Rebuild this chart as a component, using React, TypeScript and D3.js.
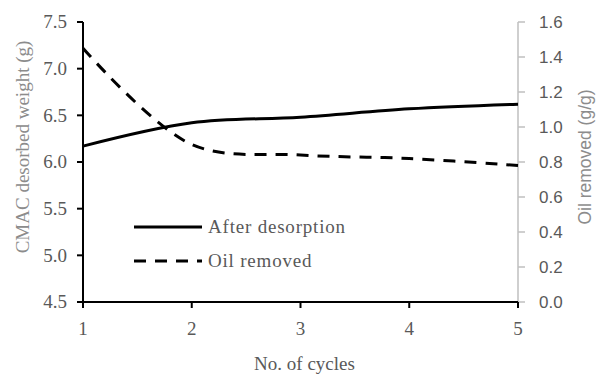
import React from "react";
import * as d3 from "d3";

const cycles = [1, 2, 3, 4, 5];
const afterDesorption = [6.17, 6.42, 6.48, 6.57, 6.62];
const oilRemoved = [1.45, 0.9, 0.84, 0.82, 0.78];
const leftTicks = [4.5, 5.0, 5.5, 6.0, 6.5, 7.0, 7.5];
const rightTicks = [0, 0.2, 0.4, 0.6, 0.8, 1.0, 1.2, 1.4, 1.6];

const W = 599;
const H = 374;
const M = { left: 83, right: 518, top: 22, bottom: 302 };

export default function App() {
  const x = d3.scaleLinear().domain([1, 5]).range([M.left, M.right]);
  const yL = d3.scaleLinear().domain([4.5, 7.5]).range([M.bottom, M.top]);
  const yR = d3.scaleLinear().domain([0, 1.6]).range([M.bottom, M.top]);

  const curve = d3.curveCatmullRom.alpha(0.5);
  const solid = d3
    .line<number>()
    .x((_, i) => x(cycles[i]))
    .y((d) => yL(d))
    .curve(curve)(afterDesorption);
  const dashed = d3
    .line<number>()
    .x((_, i) => x(cycles[i]))
    .y((d) => yR(d))
    .curve(curve)(oilRemoved);

  const serif = "'Liberation Serif', 'Times New Roman', serif";
  const sans = "'Liberation Sans', Arial, sans-serif";
  const gray = "#595959";
  const titleGray = "#8c8c8c";

  return (
    <svg
      width={W}
      height={H}
      style={{ position: "absolute", left: 0, top: 0 }}
      viewBox={`0 0 ${W} ${H}`}
    >
      <rect width={W} height={H} fill="#fff" />

      {/* right axis (gray) */}
      <line x1={M.right} x2={M.right} y1={M.top} y2={M.bottom} stroke="#bfbfbf" strokeWidth={1.5} />
      {rightTicks.map((t) => (
        <g key={"r" + t}>
          <line x1={M.right} x2={M.right + 7} y1={yR(t)} y2={yR(t)} stroke="#bfbfbf" strokeWidth={1.5} />
          <text x={M.right + 21} y={yR(t)} dy="0.36em" fontFamily={sans} fontSize={17} fill={gray}>
            {t.toFixed(1)}
          </text>
        </g>
      ))}
      <text
        transform={`translate(591,157) rotate(-90)`}
        textAnchor="middle"
        fontFamily={sans}
        fontSize={17.5}
        fill={titleGray}
      >
        Oil removed (g/g)
      </text>

      {/* left axis */}
      <line x1={M.left} x2={M.left} y1={M.top} y2={M.bottom} stroke="#000" strokeWidth={2} />
      {leftTicks.map((t) => (
        <g key={"l" + t}>
          <line x1={M.left - 6} x2={M.left} y1={yL(t)} y2={yL(t)} stroke="#000" strokeWidth={2} />
          <text x={M.left - 16} y={yL(t)} dy="0.34em" textAnchor="end" fontFamily={serif} fontSize={19} fill={gray}>
            {t.toFixed(1)}
          </text>
        </g>
      ))}
      <text
        transform={`translate(29,147) rotate(-90)`}
        textAnchor="middle"
        fontFamily={serif}
        fontSize={19}
        fill={titleGray}
      >
        CMAC desorbed weight (g)
      </text>

      {/* bottom axis */}
      <line x1={M.left} x2={M.right} y1={M.bottom} y2={M.bottom} stroke="#000" strokeWidth={2} />
      {cycles.map((c) => (
        <g key={"x" + c}>
          <line x1={x(c)} x2={x(c)} y1={M.bottom} y2={M.bottom + 6} stroke="#000" strokeWidth={2} />
          <text x={x(c)} y={M.bottom + 33} textAnchor="middle" fontFamily={serif} fontSize={19} fill={gray}>
            {c}
          </text>
        </g>
      ))}
      <text x={(M.left + M.right) / 2 + 4} y={370} textAnchor="middle" fontFamily={serif} fontSize={19} fill={gray}>
        No. of cycles
      </text>

      {/* series */}
      <path d={solid ?? ""} fill="none" stroke="#000" strokeWidth={3} />
      <path d={dashed ?? ""} fill="none" stroke="#000" strokeWidth={3} strokeDasharray="12 9" />

      {/* legend */}
      <line x1={134} x2={202} y1={227} y2={227} stroke="#000" strokeWidth={3} />
      <text x={208} y={227} dy="0.34em" fontFamily={serif} fontSize={19} letterSpacing={0.8} fill={gray}>
        After desorption
      </text>
      <line x1={134} x2={202} y1={261} y2={261} stroke="#000" strokeWidth={3} strokeDasharray="12 9" />
      <text x={208} y={261} dy="0.34em" fontFamily={serif} fontSize={19} letterSpacing={0.8} fill={gray}>
        Oil removed
      </text>
    </svg>
  );
}
